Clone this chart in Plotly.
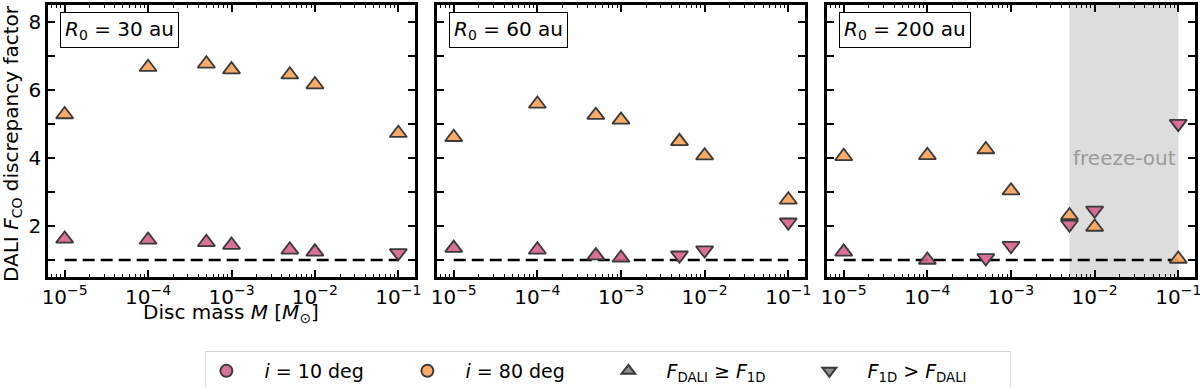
import plotly.graph_objects as go
import math

masses = [1e-5, 1e-4, 5e-4, 1e-3, 5e-3, 1e-2, 1e-1]
radii_labels = ["30", "60", "200"]

# i = 80 deg (orange) values per panel
orange_30 = [5.28, 6.67, 6.77, 6.60, 6.45, 6.16, 4.73]
orange_60 = [4.61, 5.59, 5.26, 5.12, 4.49, 4.07, 2.77]
orange_200 = [4.05, 4.08, 4.25, 3.04, 2.31, 1.97, 1.03]
# i = 10 deg (pink) values per panel
pink_30 = [1.62, 1.59, 1.52, 1.44, 1.30, 1.24, 1.21]
pink_60 = [1.35, 1.30, 1.13, 1.06, 1.14, 1.29, 2.11]
pink_200 = [1.24, 1.00, 1.06, 1.42, 2.05, 2.46, 5.01]
# True = F_DALI >= F_1D (up triangle), False = down triangle
orange_up_30 = [True] * 7
orange_up_60 = [True] * 7
orange_up_200 = [True] * 7
pink_up_30 = [True, True, True, True, True, True, False]
pink_up_60 = [True, True, True, True, False, False, False]
pink_up_200 = [True, True, False, False, False, False, False]

ref_x = [1e-5, 1e-1]
ref_y = [1, 1]
freeze_range = [5e-3, 0.1]
y_limits = [0.5, 8.5]

PINK = "rgba(214,98,142,0.9)"
ORANGE = "rgba(250,164,90,0.92)"
EDGE = "#3a3a3a"

panels = [
    (orange_30, orange_up_30, pink_30, pink_up_30),
    (orange_60, orange_up_60, pink_60, pink_up_60),
    (orange_200, orange_up_200, pink_200, pink_up_200),
]

fig = go.Figure()
H = 388.0
W = 1200.0
xdomains = [(48 / W, 415 / W), (437 / W, 805 / W), (827 / W, 1195 / W)]
ydom = (1 - 277 / H, 1 - 5 / H)

def sym(flags):
    return ["triangle-up" if f else "triangle-down" for f in flags]

# freeze-out shaded region (panel 3)
fig.add_trace(go.Scatter(
    x=[freeze_range[0], freeze_range[1], freeze_range[1], freeze_range[0]],
    y=[y_limits[0], y_limits[0], y_limits[1], y_limits[1]],
    xaxis="x3", yaxis="y3", mode="lines", fill="toself",
    fillcolor="rgba(221,221,221,1)", line=dict(width=0),
    showlegend=False, hoverinfo="skip"))

for k, (ov, ou, pv, pu) in enumerate(panels):
    xa = "x" if k == 0 else f"x{k+1}"
    ya = "y" if k == 0 else f"y{k+1}"
    fig.add_trace(go.Scatter(x=ref_x, y=ref_y, mode="lines", xaxis=xa, yaxis=ya,
                             line=dict(color="black", width=2.6, dash="12px,6px"),
                             showlegend=False, hoverinfo="skip"))
    fig.add_trace(go.Scatter(x=masses, y=pv, mode="markers", xaxis=xa, yaxis=ya,
                             marker=dict(symbol=sym(pu), size=15, color=PINK,
                                         line=dict(color=EDGE, width=1.8)),
                             showlegend=False))
    fig.add_trace(go.Scatter(x=masses, y=ov, mode="markers", xaxis=xa, yaxis=ya,
                             marker=dict(symbol=sym(ou), size=15, color=ORANGE,
                                         line=dict(color=EDGE, width=1.8)),
                             showlegend=False))

# legend entries
sp = "\u00a0\u00a0\u00a0"
leg = [
    (sp + "<i>i</i> = 10 deg", "circle", PINK),
    (sp + "<i>i</i> = 80 deg", "circle", ORANGE),
    (sp + "<i>F</i><sub>DALI</sub> ≥ <i>F</i><sub>1D</sub>", "triangle-up", "rgba(128,128,128,0.9)"),
    (sp + "<i>F</i><sub>1D</sub> > <i>F</i><sub>DALI</sub>", "triangle-down", "rgba(128,128,128,0.9)"),
]
for name, s, c in leg:
    fig.add_trace(go.Scatter(x=[None], y=[None], mode="markers", name=name,
                             marker=dict(symbol=s, size=12, color=c,
                                         line=dict(color=EDGE, width=1.8))))

tickvals_x = [1e-5, 1e-4, 1e-3, 1e-2, 1e-1]
ticktext_x = ["10<sup>−5</sup>", "10<sup>−4</sup>", "10<sup>−3</sup>", "10<sup>−2</sup>", "10<sup>−1</sup>"]
ytickvals = [1, 2, 3, 4, 5, 6, 7, 8]

layout = dict(
    width=1200, height=388,
    margin=dict(l=0, r=0, t=0, b=0, autoexpand=False),
    paper_bgcolor="white", plot_bgcolor="white",
    font=dict(family="DejaVu Sans", size=19, color="black"),
    showlegend=True,
    legend=dict(orientation="h", x=0.507, xanchor="center", y=1 - 351 / H, yanchor="top",
                bordercolor="#d8d8d8", borderwidth=1, bgcolor="white",
                font=dict(size=19), entrywidth=156, entrywidthmode="pixels",
                itemsizing="constant", tracegroupgap=0),
)
for k in range(3):
    xk = "xaxis" if k == 0 else f"xaxis{k+1}"
    yk = "yaxis" if k == 0 else f"yaxis{k+1}"
    ya = "y" if k == 0 else f"y{k+1}"
    xa = "x" if k == 0 else f"x{k+1}"
    layout[xk] = dict(
        type="log", range=[-5.2, -0.8], domain=list(xdomains[k]), anchor=ya,
        showline=True, linecolor="black", linewidth=2.6, mirror="allticks",
        ticks="inside", ticklen=7, tickwidth=1.6, tickcolor="black",
        tickvals=tickvals_x, ticktext=ticktext_x, tickfont=dict(size=20),
        ticklabeloverflow="allow",
        showgrid=False, zeroline=False, automargin=False,
        minor=dict(ticks="inside", ticklen=3.5, tickwidth=1.2, tickcolor="black",
                   dtick="D1", showgrid=False),
    )
    layout[yk] = dict(
        range=y_limits, domain=list(ydom), anchor=xa,
        showline=True, linecolor="black", linewidth=2.6, mirror="allticks",
        ticks="inside", ticklen=7, tickwidth=1.6, tickcolor="black",
        tickvals=ytickvals,
        ticktext=(["", "2", "", "4", "", "6", "", "8"] if k == 0 else [""] * 8),
        tickfont=dict(size=20), showgrid=False, zeroline=False, automargin=False,
    )
fig.update_layout(**layout)

# axis titles as annotations
fig.add_annotation(xref="paper", yref="paper", x=231 / W, y=1 - 313 / H,
                   xanchor="center", yanchor="middle", showarrow=False,
                   text="Disc mass <i>M</i> [<i>M</i><sub>⊙</sub>]", font=dict(size=20))
fig.add_annotation(xref="paper", yref="paper", x=12 / W, y=1 - 144 / H,
                   xanchor="center", yanchor="middle", showarrow=False, textangle=-90,
                   text="DALI <i>F</i><sub>CO</sub> discrepancy factor", font=dict(size=20))

fig.add_annotation(xref="x3", yref="y3", x=math.log10(2.3e-2), y=4.0, text="freeze-out",
                   showarrow=False, font=dict(size=20, color="#999999"))

for k, lab in enumerate(radii_labels):
    xa = "x" if k == 0 else f"x{k+1}"
    ya = "y" if k == 0 else f"y{k+1}"
    fig.add_annotation(xref=f"{xa} domain", yref=f"{ya} domain", x=0.033, y=0.975,
                       xanchor="left", yanchor="top", showarrow=False,
                       text=f"<i>R</i><sub>0</sub> = {lab} au",
                       font=dict(size=20), bgcolor="white", bordercolor="black",
                       borderwidth=1, borderpad=4)

fig.write_html("out.html", config={"displayModeBar": False},
               post_script="document.body.style.margin='0px';")
